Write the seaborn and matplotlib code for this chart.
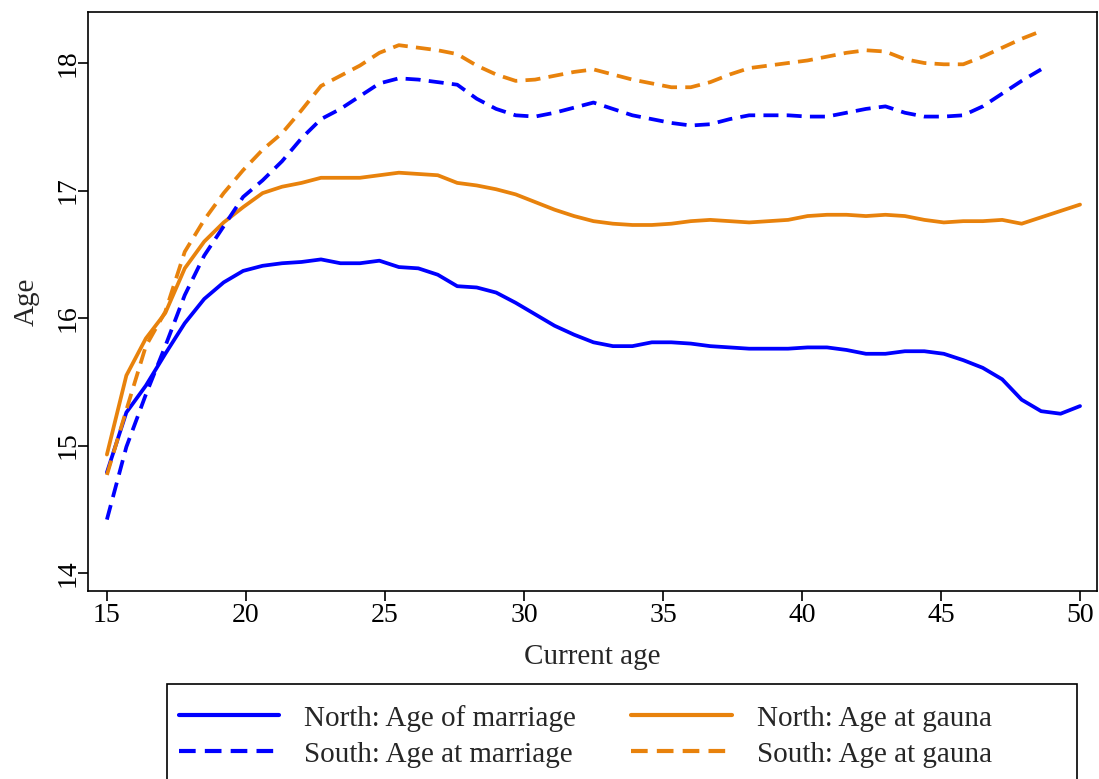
import numpy as np
import pandas as pd
import matplotlib
matplotlib.use("Agg")
import matplotlib.pyplot as plt
from matplotlib.patches import Rectangle
import seaborn as sns

# Current age grid (years)
ages = [round(15 + 0.7 * i, 1) for i in range(51)]

north_marriage = [14.79, 15.26, 15.47, 15.72, 15.96, 16.15, 16.28, 16.37, 16.41, 16.43,
                  16.44, 16.46, 16.43, 16.43, 16.45, 16.40, 16.39, 16.34, 16.25, 16.24,
                  16.20, 16.12, 16.03, 15.94, 15.87, 15.81, 15.78, 15.78, 15.81, 15.81,
                  15.80, 15.78, 15.77, 15.76, 15.76, 15.76, 15.77, 15.77, 15.75, 15.72,
                  15.72, 15.74, 15.74, 15.72, 15.67, 15.61, 15.52, 15.36, 15.27, 15.25,
                  15.31]

north_gauna = [14.93, 15.55, 15.84, 16.04, 16.39, 16.60, 16.75, 16.87, 16.98, 17.03,
               17.06, 17.10, 17.10, 17.10, 17.12, 17.14, 17.13, 17.12, 17.06, 17.04,
               17.01, 16.97, 16.91, 16.85, 16.80, 16.76, 16.74, 16.73, 16.73, 16.74,
               16.76, 16.77, 16.76, 16.75, 16.76, 16.77, 16.80, 16.81, 16.81, 16.80,
               16.81, 16.80, 16.77, 16.75, 16.76, 16.76, 16.77, 16.74, 16.79, 16.84,
               16.89]

south_marriage = [14.42, 14.99, 15.40, 15.78, 16.18, 16.49, 16.72, 16.95, 17.08, 17.23,
                  17.41, 17.56, 17.64, 17.74, 17.84, 17.88, 17.87, 17.85, 17.83, 17.72,
                  17.64, 17.59, 17.58, 17.61, 17.65, 17.69, 17.64, 17.59, 17.56, 17.53,
                  17.51, 17.52, 17.56, 17.59, 17.59, 17.59, 17.58, 17.58, 17.61, 17.64,
                  17.66, 17.61, 17.58, 17.58, 17.59, 17.66, 17.76, 17.86, 17.95]

south_gauna = [14.77, 15.28, 15.78, 16.05, 16.52, 16.77, 16.98, 17.16, 17.32, 17.45,
               17.63, 17.82, 17.90, 17.98, 18.08, 18.14, 18.12, 18.10, 18.07, 17.98,
               17.91, 17.86, 17.87, 17.90, 17.93, 17.95, 17.91, 17.87, 17.84, 17.81,
               17.81, 17.85, 17.91, 17.96, 17.98, 18.00, 18.02, 18.05, 18.08, 18.10,
               18.09, 18.03, 18.00, 17.99, 17.99, 18.05, 18.12, 18.19, 18.25]

labels = ["North: Age of marriage", "North: Age at gauna",
          "South: Age at marriage", "South: Age at gauna"]
series = [north_marriage, north_gauna, south_marriage, south_gauna]

frames = []
for lab, vals in zip(labels, series):
    frames.append(pd.DataFrame({"age": ages[:len(vals)], "value": vals, "series": lab}))
df = pd.concat(frames, ignore_index=True)

blue = "#0000FF"
orange = "#E8820C"
palette = {labels[0]: blue, labels[1]: orange, labels[2]: blue, labels[3]: orange}
dashes = {labels[0]: "", labels[1]: "", labels[2]: (4.0, 2.2), labels[3]: (4.0, 2.2)}

sns.set_style("ticks")
plt.rcParams["font.family"] = ["Liberation Serif", "DejaVu Serif"]

W, H = 1099, 779
fig = plt.figure(figsize=(W / 100, H / 100), dpi=100)
ax = fig.add_axes([88 / W, 1 - 591 / H, (1097 - 88) / W, (591 - 12) / H])

sns.lineplot(data=df, x="age", y="value", hue="series", style="series",
             palette=palette, dashes=dashes, hue_order=labels, style_order=labels,
             linewidth=2.7, ax=ax, legend=True, sort=False)

ax.set_xlim(14.32, 50.61)
ax.set_ylim(13.86, 18.40)
ax.set_xticks([15, 20, 25, 30, 35, 40, 45, 50])
ax.set_yticks([14, 15, 16, 17, 18])
ax.tick_params(axis="both", direction="out", length=7, width=1.2, colors="black",
               labelsize=20)
ax.tick_params(axis="y", pad=-2)
ax.tick_params(axis="x", pad=2)
for lbl in ax.get_yticklabels():
    lbl.set_rotation(90)
    lbl.set_va("center")
for sp in ax.spines.values():
    sp.set_visible(True)
    sp.set_linewidth(1.2)
    sp.set_color("black")

ax.set_xlabel("Current age", fontsize=21, labelpad=11)
ax.set_ylabel("Age", fontsize=21, labelpad=12)

handles, leg_labels = ax.get_legend_handles_labels()
ax.get_legend().remove()
order = [0, 2, 1, 3]
leg = fig.legend([handles[i] for i in order], [leg_labels[i] for i in order],
                 ncol=2, loc="upper left", bbox_to_anchor=(167 / W, 1 - 693 / H),
                 fontsize=21, frameon=False,
                 handlelength=3.45, handletextpad=0.85, columnspacing=1.9,
                 borderpad=0.4, borderaxespad=0, labelspacing=0.33)
for h in leg.get_lines():
    h.set_linewidth(3.0)

# legend box, running off the bottom edge of the figure
fig.add_artist(Rectangle((167 / W, -0.05), (1077 - 167) / W, 0.05 + (779 - 684) / H,
                         transform=fig.transFigure, fill=False,
                         edgecolor="black", linewidth=1.2))

fig.savefig("out.png", dpi=100)
